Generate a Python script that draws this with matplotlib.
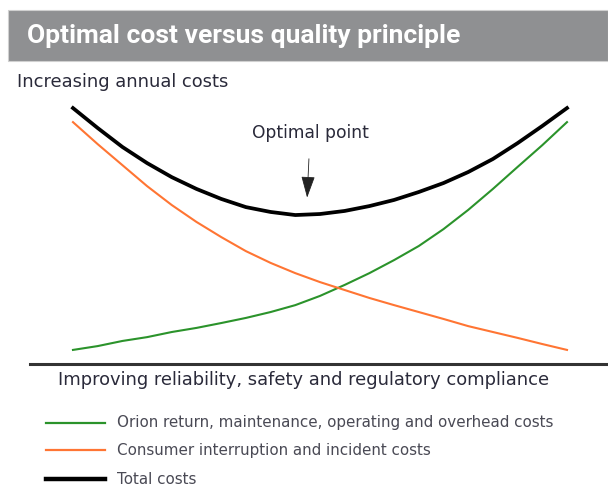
import numpy as np
import matplotlib
matplotlib.use('Agg')
import matplotlib.pyplot as plt
from matplotlib.patches import Rectangle

plt.rcParams['font.family'] = ['DejaVu Sans']

# improvement level (reliability, safety, compliance), 0 = low, 10 = high
nivel = [0, 0.5, 1, 1.5, 2, 2.5, 3, 3.5, 4, 4.5, 5,
         5.5, 6, 6.5, 7, 7.5, 8, 8.5, 9, 9.5, 10]

# annual cost index
custo_orion = [5.5, 7.0, 9.0, 10.5, 12.5, 14.1, 16.0, 18.0, 20.3, 23.0, 26.6,
               30.9, 35.5, 40.6, 46.1, 52.7, 60.2, 68.4, 77.0, 85.5, 94.5]
custo_consumidor = [94.5, 85.9, 77.7, 69.5, 62.1, 55.5, 49.6, 44.1, 39.5, 35.5, 32.0,
                    28.9, 25.8, 23.0, 20.3, 17.6, 14.8, 12.5, 10.2, 7.8, 5.5]
custo_total = [100, 92.2, 84.8, 78.5, 73.0, 68.4, 64.5, 61.3, 59.4, 58.2, 58.6,
               59.8, 61.7, 64.1, 67.2, 70.7, 75.0, 80.1, 86.3, 93.0, 100]

legendas = ['Orion return, maintenance, operating and overhead costs',
            'Consumer interruption and incident costs',
            'Total costs']

W, H = 608, 491
fig = plt.figure(figsize=(W / 100, H / 100), dpi=100)

def fx(px):
    return px / W

def fy(py):
    return 1 - py / H

# faixa cinza do titulo
fig.patches.append(Rectangle((fx(8), fy(61)), fx(600), 51 / H, transform=fig.transFigure,
                             facecolor='#8f9092', edgecolor='#d0d0d0', lw=0.8))
fig.text(fx(27), fy(36), 'Optimal cost versus quality principle', color='white',
         fontsize=19, fontweight='bold', va='center', ha='left', family='Roboto')
fig.text(fx(17), fy(82), 'Increasing annual costs', color='#2a2a3a',
         fontsize=12.9, va='center', ha='left')

ax = fig.add_axes([fx(30), fy(364), fx(578), 269 / H])
ax.plot(nivel, custo_orion, color='#2b932b', lw=1.5, solid_joinstyle='round')
ax.plot(nivel, custo_consumidor, color='#ff7533', lw=1.5, solid_joinstyle='round')
ax.plot(nivel, custo_total, color='black', lw=2.7, solid_joinstyle='round')

ax.set_xlim(-0.87, 10.83)
ax.set_ylim(0, 105.1)
for s in ['top', 'right', 'left']:
    ax.spines[s].set_visible(False)
ax.spines['bottom'].set_color('#333333')
ax.spines['bottom'].set_linewidth(2.2)
ax.set_xticks([])
ax.set_yticks([])

# seta do ponto otimo
i_min = int(np.argmin(custo_total))
ax.annotate('Optimal point', xy=(nivel[i_min] + 0.24, custo_total[i_min] + 6.8),
            xytext=(nivel[i_min] + 0.3, custo_total[i_min] + 32),
            ha='center', va='center', fontsize=12.3, color='#2a2a3a',
            arrowprops=dict(arrowstyle='-|>,head_width=0.35,head_length=1.1',
                            color='#222222', lw=0.6, shrinkA=10, shrinkB=0))

ax.set_xlabel('Improving reliability, safety and regulatory compliance',
              fontsize=12.9, color='#2a2a3a', labelpad=5)
ax.xaxis.set_label_coords(0.474, -0.025, transform=ax.transAxes)
ax.xaxis.label.set_va('top')

# legenda manual
cores = ['#2b932b', '#ff7533', 'black']
larguras = [1.6, 1.6, 3.2]
ys = [423, 450, 479]
for txt, c, lw, y in zip(legendas, cores, larguras, ys):
    fig.add_artist(plt.Line2D([fx(46), fx(105)], [fy(y), fy(y)], color=c, lw=lw))
    fig.text(fx(117), fy(y), txt, fontsize=10.9, color='#4a4a55', va='center', ha='left')

fig.savefig('out.png', dpi=100)
